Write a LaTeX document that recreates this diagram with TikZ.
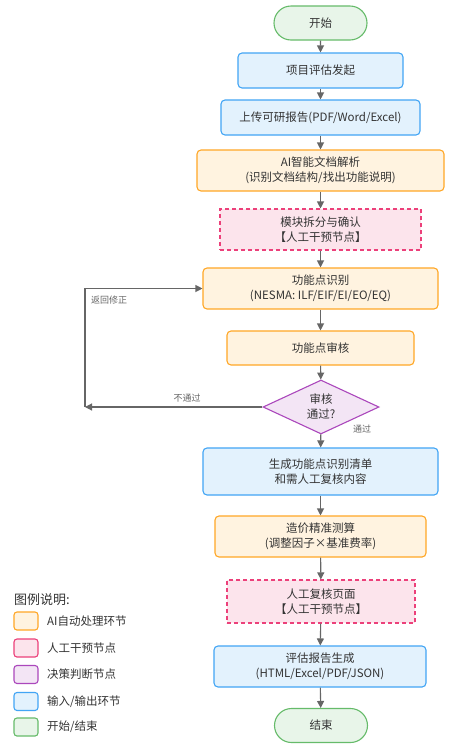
\documentclass[tikz,border=0pt]{standalone}
\usepackage{fontspec}
\setmainfont{Noto Sans CJK SC}
\usetikzlibrary{shapes.geometric,shapes.misc,arrows.meta}
\definecolor{gfill}{HTML}{E8F5E9}\definecolor{gline}{HTML}{66BB6A}
\definecolor{bfill}{HTML}{E3F2FD}\definecolor{bline}{HTML}{42A5F5}
\definecolor{ofill}{HTML}{FFF3E0}\definecolor{oline}{HTML}{FFA726}
\definecolor{pfill}{HTML}{FCE4EC}\definecolor{pline}{HTML}{EC407A}
\definecolor{vfill}{HTML}{F3E5F5}\definecolor{vline}{HTML}{AB47BC}
\definecolor{arr}{HTML}{666666}
\definecolor{txt}{HTML}{333333}
\tikzset{
  base/.style={inner sep=0pt, align=center, text=txt, line width=1.1pt, font=\fontsize{11.5}{15}\selectfont},
  startend/.style={base, rounded rectangle, draw=gline, fill=gfill, minimum width=93pt, minimum height=34pt},
  io/.style={base, rectangle, rounded corners=4pt, draw=bline, fill=bfill},
  ai/.style={base, rectangle, rounded corners=4pt, draw=oline, fill=ofill},
  human/.style={base, rectangle, draw=pline, fill=pfill, dashed, dash pattern=on 4pt off 3pt},
  decide/.style={base, diamond, draw=vline, fill=vfill, minimum width=116pt, minimum height=46pt},
  flow/.style={draw=arr, line width=1.1pt, -{Triangle[length=7pt,width=7pt]}},
  elabel/.style={text=arr, font=\fontsize{9}{11}\selectfont, inner sep=0pt},
  legbox/.style={rectangle, rounded corners=3pt, line width=1.1pt, minimum width=24pt, minimum height=18pt, inner sep=0pt},
  legtext/.style={anchor=west, text=txt, font=\fontsize{11.5}{14}\selectfont, inner sep=0pt}
}
\begin{document}
\begin{tikzpicture}[x=1pt,y=-1pt]
\useasboundingbox[fill=white] (0,0) rectangle (455,753);
\node[startend] (start) at (320.5,23) {开始};
\node[io, minimum width=165pt, minimum height=35pt] (init) at (320.5,70.5) {项目评估发起};
\node[io, minimum width=199pt, minimum height=35pt] (upload) at (320.5,117.5) {上传可研报告(PDF/Word/Excel)};
\node[ai, minimum width=247pt, minimum height=41pt] (parse) at (320.5,170.5) {AI智能文档解析\\(识别文档结构/找出功能说明)};
\node[human, minimum width=201pt, minimum height=41pt] (split) at (320.5,229.5) {模块拆分与确认\\【人工干预节点】};
\node[ai, minimum width=235pt, minimum height=41pt] (fp) at (320.5,288.5) {功能点识别\\(NESMA: ILF/EIF/EI/EO/EQ)};
\node[ai, minimum width=187pt, minimum height=34pt] (review) at (320.5,348) {功能点审核};
\node[decide] (dec) at (321,407) {审核\\通过?};
\node[io, minimum width=235pt, minimum height=47pt] (list) at (320.5,471.5) {生成功能点识别清单\\和需人工复核内容};
\node[ai, minimum width=211pt, minimum height=41pt] (cost) at (320.5,536.5) {造价精准测算\\(调整因子×基准费率)};
\node[human, minimum width=188pt, minimum height=43pt] (check) at (321,601.5) {人工复核页面\\【人工干预节点】};
\node[io, minimum width=212pt, minimum height=41pt] (report) at (320,666.5) {评估报告生成\\(HTML/Excel/PDF/JSON)};
\node[startend] (end) at (321,725.5) {结束};

\draw[flow] (start) -- (init);
\draw[flow] (init) -- (upload);
\draw[flow] (upload) -- (parse);
\draw[flow] (parse) -- (split);
\draw[flow] (split) -- (fp);
\draw[flow] (fp) -- (review);
\draw[flow] (review) -- (dec);
\draw[flow] (dec) -- (list);
\draw[flow] (list) -- (cost);
\draw[flow] (cost) -- (check);
\draw[flow] (check) -- (report);
\draw[flow] (report) -- (end);

\coordinate (loopc) at (85,407);
\draw[flow] (dec.west) -- (loopc);
\draw[flow] (loopc) |- (fp.west);
\node[elabel, anchor=west] (lb1) at (91,300) {返回修正};
\node[elabel] (lb2) at (187,398) {不通过};
\node[elabel] (lb3) at (362,429) {通过};

\node[anchor=west, text=txt, font=\fontsize{13}{15}\selectfont, inner sep=0pt] (legt) at (14,600) {图例说明:};
\node[legbox, draw=oline, fill=ofill] (l1) at (26,621) {};
\node[legbox, draw=pline, fill=pfill] (l2) at (26,648) {};
\node[legbox, draw=vline, fill=vfill] (l3) at (26,674.5) {};
\node[legbox, draw=bline, fill=bfill] (l4) at (26,701.5) {};
\node[legbox, draw=gline, fill=gfill] (l5) at (26,727) {};
\node[legtext] (t1) at (47,621) {AI自动处理环节};
\node[legtext] (t2) at (47,648) {人工干预节点};
\node[legtext] (t3) at (47,674.5) {决策判断节点};
\node[legtext] (t4) at (47,701.5) {输入/输出环节};
\node[legtext] (t5) at (47,727) {开始/结束};
\end{tikzpicture}
\end{document}
